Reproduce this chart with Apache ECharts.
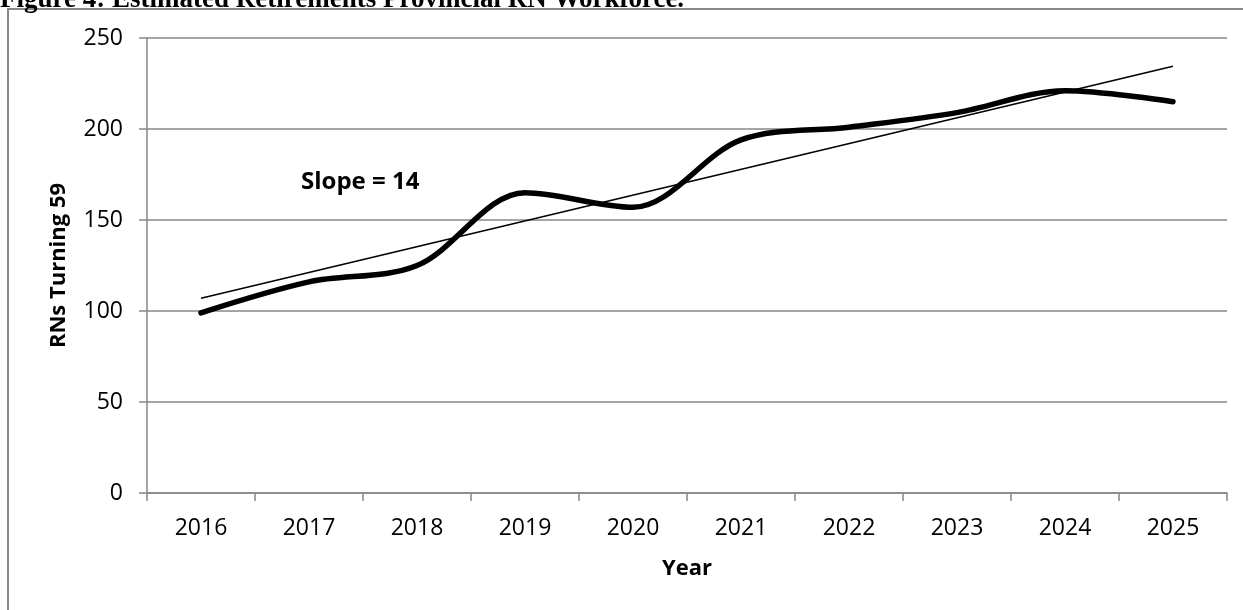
<!DOCTYPE html>
<html>
<head>
<meta charset="utf-8">
<script src="https://cdn.jsdelivr.net/npm/echarts@6/dist/echarts.min.js"></script>
<style>
html,body{margin:0;padding:0;background:#fff;}
#chart{width:1243px;height:610px;}
</style>
</head>
<body>
<div id="chart"></div>
<script>
const years = ['2016','2017','2018','2019','2020','2021','2022','2023','2024','2025'];
const rnsTurning59 = [99, 116, 125, 165, 157, 194, 201, 209, 221, 215];
const trendYears = ['2016', '2025'];
const trendValues = [107, 234.5];
const yTicks = [0, 50, 100, 150, 200, 250];
const titleText = 'Figure 4: Estimated Retirements Provincial RN Workforce.';
const slopeText = 'Slope = 14';

const chart = echarts.init(document.getElementById('chart'), null, {renderer: 'canvas'});
const gray = '#878787';
const font = 'Open Sans';
chart.setOption({
  animation: false,
  backgroundColor: '#fff',
  grid: {left: 147, right: 16, top: 38, bottom: 117, containLabel: false},
  xAxis: {
    type: 'category',
    data: years,
    boundaryGap: true,
    name: 'Year',
    nameLocation: 'middle',
    nameGap: 65,
    nameTextStyle: {fontFamily: font, fontWeight: 'bold', fontSize: 22, color: '#000'},
    axisLine: {show: true, lineStyle: {color: gray, width: 1.5}},
    axisTick: {show: true, alignWithLabel: false, length: 8, lineStyle: {color: gray, width: 1.5}},
    axisLabel: {fontFamily: font, fontSize: 23, color: '#000', margin: 24},
    splitLine: {show: false}
  },
  yAxis: {
    type: 'value',
    min: yTicks[0],
    max: yTicks[yTicks.length - 1],
    interval: yTicks[1] - yTicks[0],
    name: 'RNs Turning 59',
    nameLocation: 'middle',
    nameGap: 77,
    nameTextStyle: {fontFamily: font, fontWeight: 'bold', fontSize: 22, color: '#000'},
    axisLine: {show: true, lineStyle: {color: gray, width: 1.5}},
    axisTick: {show: true, length: 8, lineStyle: {color: gray, width: 1.5}},
    axisLabel: {fontFamily: font, fontSize: 23, color: '#000', margin: 24},
    splitLine: {show: true, lineStyle: {color: gray, width: 1.5}}
  },
  series: [
    {
      type: 'line',
      data: rnsTurning59,
      smooth: 0.33,
      symbol: 'none',
      lineStyle: {color: '#000', width: 5.5, cap: 'round', join: 'round'},
      z: 3
    },
    {
      type: 'line',
      data: trendYears.map((y, i) => [y, trendValues[i]]),
      symbol: 'none',
      lineStyle: {color: '#000', width: 1.7},
      z: 4
    }
  ],
  graphic: [
    {type: 'rect', shape: {x: 8, y: 9, width: 1260, height: 640}, style: {fill: 'none', stroke: gray, lineWidth: 2}, silent: true, z: -1},
    {type: 'text', x: 0, y: 14, style: {text: titleText, font: 'bold 27px "Liberation Serif"', fill: '#000', textVerticalAlign: 'bottom'}, silent: true},
    {type: 'text', x: 301, y: 182, style: {text: slopeText, font: 'bold 24px "Open Sans"', fill: '#000', textVerticalAlign: 'middle'}, silent: true}
  ]
});
</script>
</body>
</html>
